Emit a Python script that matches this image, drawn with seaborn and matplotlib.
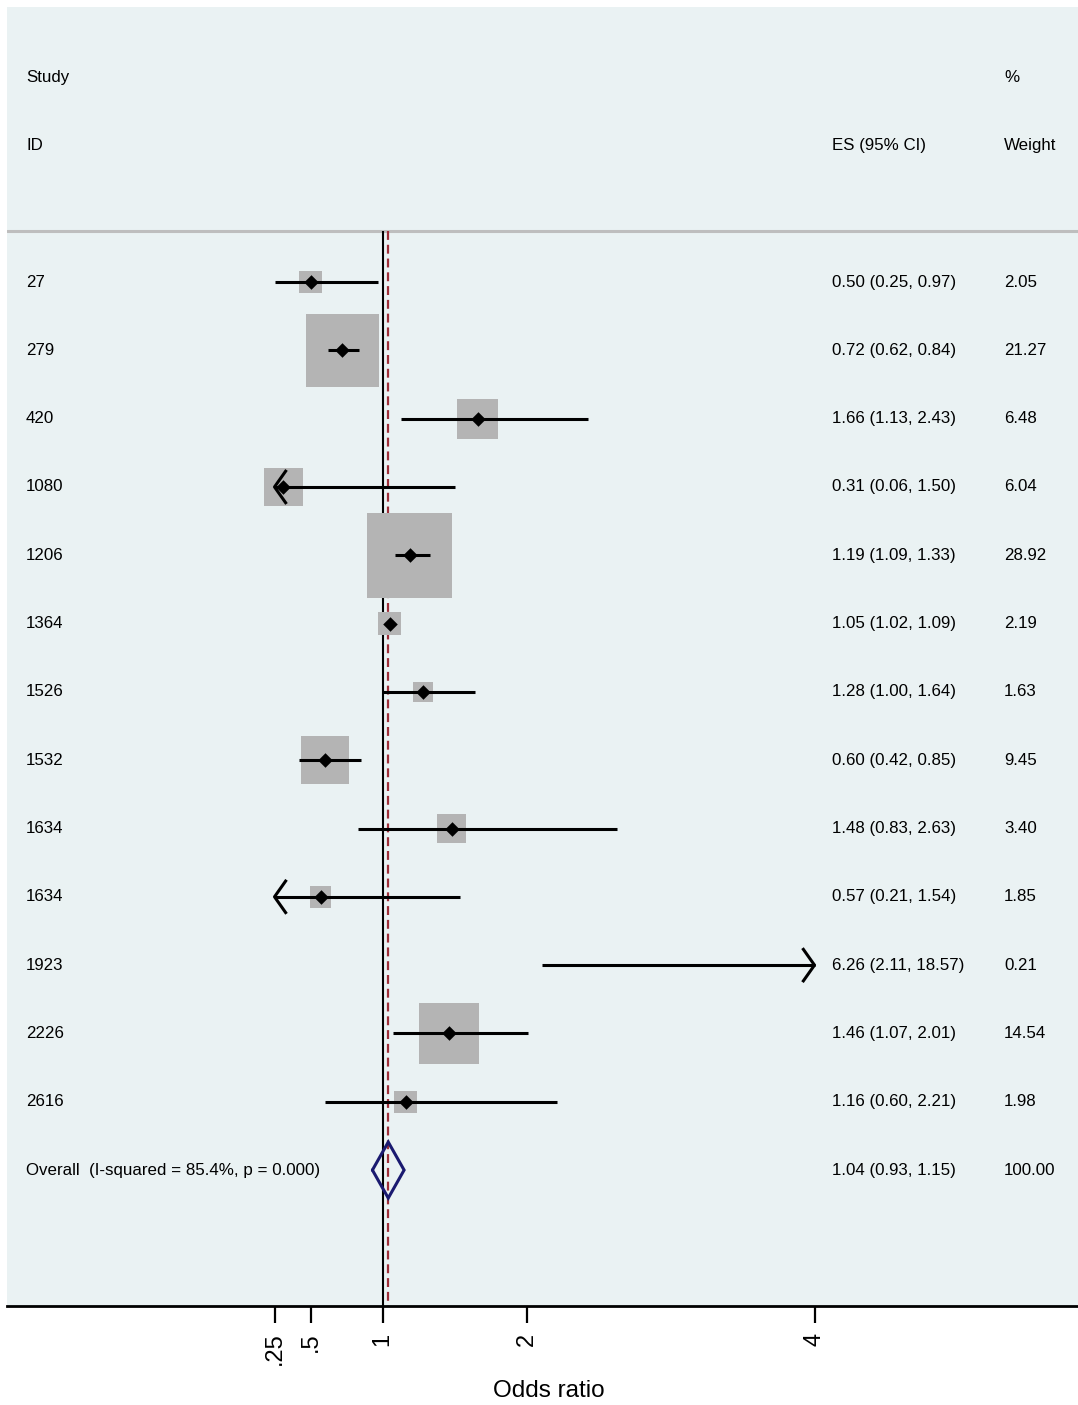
import numpy as np
import pandas as pd
import matplotlib
matplotlib.use("Agg")
import matplotlib.pyplot as plt
import seaborn as sns

# ---------------- data ----------------
studies = ["27", "279", "420", "1080", "1206", "1364", "1526", "1532",
           "1634", "1634", "1923", "2226", "2616"]
es = [0.50, 0.72, 1.66, 0.31, 1.19, 1.05, 1.28, 0.60, 1.48, 0.57, 6.26, 1.46, 1.16]
lo = [0.25, 0.62, 1.13, 0.06, 1.09, 1.02, 1.00, 0.42, 0.83, 0.21, 2.11, 1.07, 0.60]
hi = [0.97, 0.84, 2.43, 1.50, 1.33, 1.09, 1.64, 0.85, 2.63, 1.54, 18.57, 2.01, 2.21]
weights = [2.05, 21.27, 6.48, 6.04, 28.92, 2.19, 1.63, 9.45, 3.40, 1.85, 0.21, 14.54, 1.98]
overall_label = "Overall  (I-squared = 85.4%, p = 0.000)"
overall_es, overall_lo, overall_hi = 1.04, 0.93, 1.15
tick_values = [0.25, 0.5, 1, 2, 4]
tick_labels = [".25", ".5", "1", "2", "4"]
xlabel = "Odds ratio"

# ---------------- style ----------------
sns.set_style("white", rc={"text.color": "black", "xtick.color": "black",
                           "axes.labelcolor": "black"})
plt.rcParams["font.family"] = ["Liberation Sans", "DejaVu Sans"]

BG = "#EAF2F3"
BOX = "#B4B4B4"
RED = "#9E2E38"
NAVY = "#1A1A70"
FS = 12.2

df = pd.DataFrame({"study": studies, "es": es, "lo": lo, "hi": hi, "w": weights})
df["row"] = np.arange(len(df))
n = len(df)
xmin_ax, xmax_ax = min(tick_values), max(tick_values)

fig = plt.figure(figsize=(10.78, 14.05), dpi=100)
ax = fig.add_axes([7 / 1078, 1 - 1306 / 1405, 1071 / 1078, 1299 / 1405])
ax.set_facecolor(BG)

# scale: 144 px per unit, x=1 at px 382.5
ax.set_xlim(1 - (382.5 - 7) / 144, 1 + (1078 - 382.5) / 144)
ax.set_ylim(14.99, -4.026)

sep_row = -0.747
# header separator
ax.axhline(sep_row, color="#BEBEBE", lw=2.2, zorder=1)

# null line and overall line
ax.vlines(1, sep_row, 14.99, color="black", lw=1.5, zorder=2)
ax.vlines(overall_es, sep_row, 14.99, color=RED, lw=1.6,
          linestyles=(0, (4, 2.2)), zorder=2)

# boxes (area proportional to weight) for estimates inside range
inside = df[(df.es >= xmin_ax) & (df.es <= xmax_ax)]
ax.scatter(inside.es, inside.row, s=129.5 * inside.w, marker="s",
           color=BOX, linewidths=0, zorder=3)

# CI lines (clipped to axis range)
clo = df.lo.clip(lower=xmin_ax)
chi = df.hi.clip(upper=xmax_ax)
ax.hlines(df.row, clo, chi, color="black", lw=2.2, zorder=4)

# arrows for clipped CIs
aw, ah = 12 / 144, 17 / 68.31
for _, r in df.iterrows():
    if r.lo < xmin_ax:
        ax.plot([xmin_ax + aw, xmin_ax, xmin_ax + aw],
                [r.row - ah, r.row, r.row + ah], color="black", lw=2.2,
                zorder=5, solid_capstyle="butt")
    if r.hi > xmax_ax:
        ax.plot([xmax_ax - aw, xmax_ax, xmax_ax - aw],
                [r.row - ah, r.row, r.row + ah], color="black", lw=2.2,
                zorder=5, solid_capstyle="butt")

# point estimates
sns.scatterplot(data=inside, x="es", y="row", marker="D", color="black",
                s=55, linewidth=0, ax=ax, zorder=6, legend=False)

# overall diamond
dh = 0.41
ax.plot([overall_lo, overall_es, overall_hi, overall_es, overall_lo],
        [n, n - dh, n, n + dh, n], color=NAVY, lw=2.2, zorder=7,
        solid_joinstyle="miter")

# ---------------- text ----------------
tr = ax.get_yaxis_transform()
x_id, x_es, x_w = (26 - 7) / 1071, (832 - 7) / 1071, (1004 - 7) / 1071
kw = dict(transform=tr, fontsize=FS, va="center", ha="left", color="black")
ax.text(x_id, -3, "Study", **kw)
ax.text(x_id, -2, "ID", **kw)
ax.text(x_es, -2, "ES (95% CI)", **kw)
ax.text(x_w, -3, "%", **kw)
ax.text(x_w, -2, "Weight", **kw)
for _, r in df.iterrows():
    ax.text(x_id, r.row, r.study, **kw)
    ax.text(x_es, r.row, f"{r.es:.2f} ({r.lo:.2f}, {r.hi:.2f})", **kw)
    ax.text(x_w, r.row, f"{r.w:.2f}", **kw)
ax.text(x_id, n, overall_label, **kw)
ax.text(x_es, n, f"{overall_es:.2f} ({overall_lo:.2f}, {overall_hi:.2f})", **kw)
ax.text(x_w, n, f"{100:.2f}", **kw)

# ---------------- axes ----------------
for s in ["top", "left", "right"]:
    ax.spines[s].set_visible(False)
ax.spines["bottom"].set_color("black")
ax.spines["bottom"].set_linewidth(2.0)
ax.set_yticks([])
ax.set_xticks(tick_values)
ax.set_xticklabels(tick_labels, rotation=90, fontsize=17, color="black")
ax.tick_params(axis="x", direction="out", length=12, width=1.6,
               color="black", labelcolor="black", pad=7, bottom=True)
ax.set_xlabel("")
ax.set_ylabel("")
fig.text(548.5 / 1078, 1 - 1391 / 1405, xlabel, fontsize=17.5,
         ha="center", va="center", color="black")

fig.savefig("out.png", dpi=100, facecolor="white")
